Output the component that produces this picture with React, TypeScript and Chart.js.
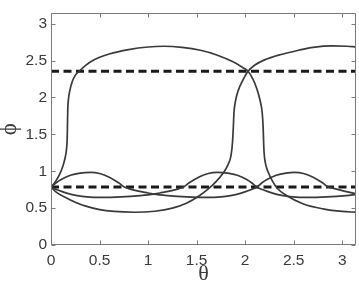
import React, { useEffect, useRef } from "react";
import { Chart, registerables } from "chart.js";

Chart.register(...registerables);

const PI = Math.PI;

// Wavy curve 1 (peaks first)
const w1Theta = [0, 0.05, 0.1, 0.2, 0.3, 0.41, 0.5, 0.6, 0.7, 0.75, 0.8, 0.9, 1.0, 1.06, 1.2, 1.4, 1.6, 1.75, 1.85, 1.95, 2.05, 2.12, 2.17, 2.22, 2.32, 2.42, 2.51, 2.6, 2.7, 2.8, 2.85, 2.92, 3.02, 3.1416];
const w1Phi = [0.785, 0.84, 0.885, 0.945, 0.975, 0.985, 0.97, 0.92, 0.84, 0.79, 0.765, 0.73, 0.705, 0.69, 0.67, 0.652, 0.645, 0.652, 0.67, 0.7, 0.745, 0.785, 0.84, 0.885, 0.945, 0.975, 0.985, 0.97, 0.92, 0.84, 0.79, 0.765, 0.73, 0.695];

// Wavy curve 2 (dips first)
const w2Theta = [0, 0.07, 0.17, 0.27, 0.37, 0.52, 0.72, 0.92, 1.06, 1.12, 1.22, 1.32, 1.37, 1.42, 1.52, 1.62, 1.71, 1.82, 1.92, 2.02, 2.07, 2.12, 2.19, 2.29, 2.39, 2.49, 2.64, 2.84, 3.04, 3.1416];
const w2Phi = [0.785, 0.745, 0.7, 0.67, 0.652, 0.645, 0.652, 0.67, 0.69, 0.705, 0.73, 0.765, 0.79, 0.84, 0.92, 0.97, 0.985, 0.975, 0.945, 0.885, 0.84, 0.785, 0.745, 0.7, 0.67, 0.652, 0.645, 0.652, 0.67, 0.685];

// Large curve 1 (rises first)
const b1Theta = [0, 0.03, 0.06, 0.09, 0.12, 0.145, 0.16, 0.167, 0.17, 0.173, 0.18, 0.195, 0.22, 0.25, 0.29, 0.36, 0.44, 0.6, 0.8, 1.0, 1.16, 1.35, 1.54, 1.7, 1.88, 1.97, 2.03, 2.08, 2.12, 2.15, 2.175, 2.185, 2.19, 2.195, 2.21, 2.24, 2.28, 2.33, 2.43, 2.6, 2.8, 3.0, 3.1416];
const b1Phi = [0.785, 0.83, 0.89, 0.96, 1.06, 1.18, 1.3, 1.45, 1.65, 1.85, 1.98, 2.1, 2.22, 2.3, 2.356, 2.44, 2.51, 2.59, 2.65, 2.685, 2.695, 2.68, 2.64, 2.58, 2.48, 2.41, 2.356, 2.25, 2.12, 1.98, 1.8, 1.6, 1.4, 1.25, 1.1, 0.98, 0.87, 0.77, 0.667, 0.556, 0.49, 0.455, 0.445];

// Large curve 2 (dips first)
const b2Theta = [0, 0.05, 0.15, 0.25, 0.35, 0.5, 0.65, 0.85, 1.07, 1.25, 1.4, 1.52, 1.62, 1.7, 1.77, 1.82, 1.855, 1.87, 1.878, 1.885, 1.9, 1.93, 1.97, 2.03, 2.1, 2.2, 2.36, 2.55, 2.7, 2.9, 3.05, 3.1416];
const b2Phi = [0.785, 0.72, 0.645, 0.58, 0.53, 0.48, 0.455, 0.444, 0.458, 0.5, 0.57, 0.66, 0.76, 0.86, 0.97, 1.08, 1.22, 1.4, 1.6, 1.8, 1.95, 2.1, 2.22, 2.356, 2.44, 2.51, 2.58, 2.64, 2.68, 2.7, 2.695, 2.685];

// Dashed reference levels
const dashLevels = [PI / 4, (3 * PI) / 4];

const xTicks = [0, 0.5, 1, 1.5, 2, 2.5, 3];
const xTickLabels = ["0", "0.5", "1", "1.5", "2", "2.5", "3"];
const yTicks = [0, 0.5, 1, 1.5, 2, 2.5, 3];
const yTickLabels = ["0", "0.5", "1", "1.5", "2", "2.5", "3"];

const toPoints = (xs: number[], ys: number[]) => xs.map((x, i) => ({ x, y: ys[i] }));

const boxTicks = {
  id: "boxTicks",
  afterDatasetsDraw(chart: any) {
    const { ctx, chartArea: a, scales } = chart;
    const xs = scales.x;
    const ys = scales.y;
    const L = Math.round(a.left) + 0.5;
    const R = Math.round(a.right) - 0.5;
    const T = Math.round(a.top) + 0.5;
    const B = Math.round(a.bottom) - 0.5;
    const tl = 4;
    ctx.save();
    ctx.strokeStyle = "#7a7a7a";
    ctx.lineWidth = 1;
    ctx.beginPath();
    ctx.rect(L, T, R - L, B - T);
    xTicks.forEach((v) => {
      const px = Math.round(xs.getPixelForValue(v)) + 0.5;
      ctx.moveTo(px, B);
      ctx.lineTo(px, B - tl);
      ctx.moveTo(px, T);
      ctx.lineTo(px, T + tl);
    });
    yTicks.forEach((v) => {
      const py = Math.round(ys.getPixelForValue(v)) + 0.5;
      ctx.moveTo(L, py);
      ctx.lineTo(L + tl, py);
      ctx.moveTo(R, py);
      ctx.lineTo(R - tl, py);
    });
    ctx.stroke();
    ctx.restore();
  },
};

export default function App() {
  const ref = useRef<HTMLCanvasElement | null>(null);
  useEffect(() => {
    if (!ref.current) return;
    const solid = (xs: number[], ys: number[]) => ({
      data: toPoints(xs, ys),
      showLine: true,
      borderColor: "#3a3a3a",
      borderWidth: 1.7,
      pointRadius: 0,
      cubicInterpolationMode: "monotone",
      fill: false,
    });
    const dashed = dashLevels.map((lvl) => ({
      data: [
        { x: 0, y: lvl },
        { x: PI, y: lvl },
      ],
      showLine: true,
      borderColor: "#1a1a1a",
      borderWidth: 3,
      borderDash: [8, 4.5],
      pointRadius: 0,
      fill: false,
    }));
    const tickFont = { family: "'Liberation Sans', Arial, sans-serif", size: 15.5 };
    const chart = new Chart(ref.current, {
      type: "scatter",
      data: {
        datasets: [
          solid(b1Theta, b1Phi),
          solid(b2Theta, b2Phi),
          solid(w1Theta, w1Phi),
          solid(w2Theta, w2Phi),
          ...dashed,
        ] as any,
      },
      options: {
        animation: false,
        responsive: false,
        layout: { padding: { top: 9, right: 3, left: 0, bottom: 0 } },
        plugins: { legend: { display: false }, tooltip: { enabled: false } },
        scales: {
          x: {
            type: "linear",
            min: 0,
            max: PI,
            afterBuildTicks: (s: any) => {
              s.ticks = xTicks.map((v) => ({ value: v }));
            },
            afterFit: (s: any) => {
              s.height = 36;
            },
            ticks: {
              callback: (_v: any, i: number) => xTickLabels[i],
              font: tickFont,
              color: "#3a3a3a",
              padding: 6,
              maxRotation: 0,
            },
            grid: { display: false, drawTicks: false },
            border: { display: false },
            title: {
              display: true,
              text: "θ",
              color: "#3a3a3a",
              font: { family: "'Liberation Serif', 'Times New Roman', serif", size: 22, lineHeight: 0.6 },
              padding: 0,
            },
          },
          y: {
            type: "linear",
            min: 0,
            max: PI,
            afterBuildTicks: (s: any) => {
              s.ticks = yTicks.map((v) => ({ value: v }));
            },
            afterFit: (s: any) => {
              s.width = 51;
            },
            ticks: {
              callback: (_v: any, i: number) => yTickLabels[i],
              font: tickFont,
              color: "#3a3a3a",
              padding: 4,
            },
            grid: { display: false, drawTicks: false },
            border: { display: false },
            title: {
              display: true,
              text: "ϕ",
              color: "#3a3a3a",
              font: { family: "'Liberation Serif', 'Times New Roman', serif", size: 23, lineHeight: 0.9 },
              padding: 0,
            },
          },
        },
      },
      plugins: [boxTicks],
    });
    return () => chart.destroy();
  }, []);
  return (
    <div style={{ position: "fixed", left: 0, top: 0, width: 359, height: 281, background: "#fff" }}>
      <canvas ref={ref} width={359} height={281} />
    </div>
  );
}
